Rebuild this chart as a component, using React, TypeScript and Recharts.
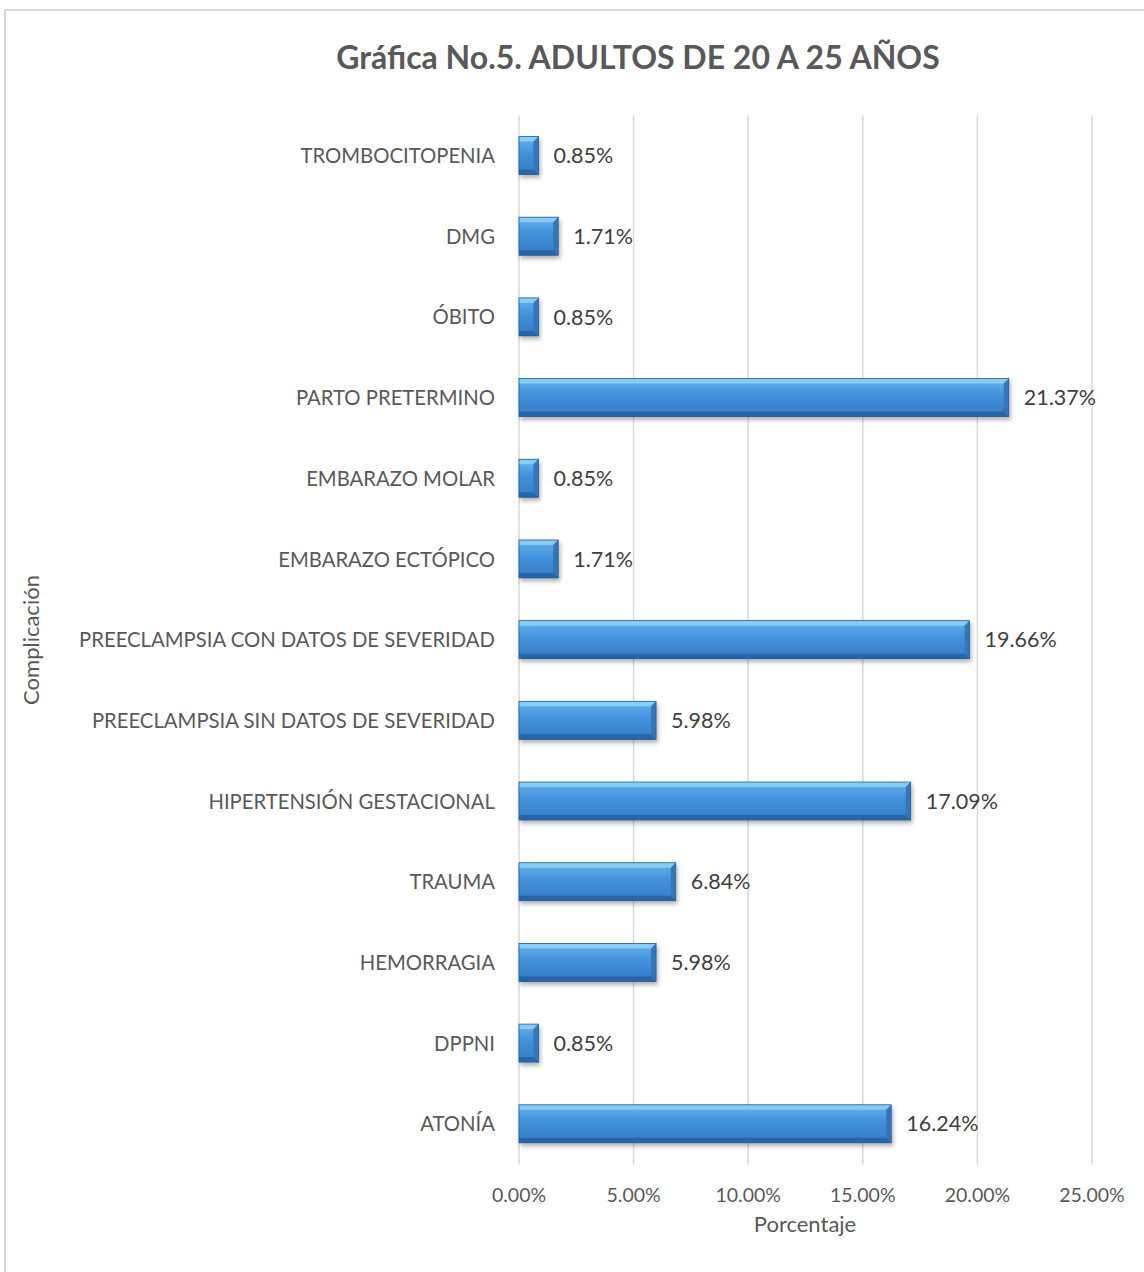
import { Bar, BarChart, CartesianGrid, LabelList, XAxis, YAxis } from "recharts";

const complicaciones: string[] = [
  "TROMBOCITOPENIA",
  "DMG",
  "ÓBITO",
  "PARTO PRETERMINO",
  "EMBARAZO MOLAR",
  "EMBARAZO ECTÓPICO",
  "PREECLAMPSIA CON DATOS DE SEVERIDAD",
  "PREECLAMPSIA SIN DATOS DE SEVERIDAD",
  "HIPERTENSIÓN GESTACIONAL",
  "TRAUMA",
  "HEMORRAGIA",
  "DPPNI",
  "ATONÍA",
];

const porcentajes: number[] = [
  0.85, 1.71, 0.85, 21.37, 0.85, 1.71, 19.66, 5.98, 17.09, 6.84, 5.98, 0.85, 16.24,
];

const xTicks: number[] = [0, 5, 10, 15, 20, 25];

const data = complicaciones.map((name, i) => ({ name, value: porcentajes[i] }));

const FONT = "Lato, 'Open Sans', sans-serif";
const GREY = "#595959";

const pct = (v: number) => `${Number(v).toFixed(2)}%`;

function BevelBar(props: any) {
  const { x, y, width, height } = props;
  if (!width || width <= 0) return null;
  const b = Math.min(5, width / 2, height / 2);
  const r = x + width;
  const bot = y + height;
  return (
    <g filter="url(#barShadow)">
      <rect x={x} y={y} width={width} height={height} fill="url(#barFace)" />
      <polygon points={`${x},${y} ${r},${y} ${r - b},${y + b} ${x},${y + b}`} fill="#86ccf7" />
      <polygon points={`${x},${bot} ${r},${bot} ${r - b},${bot - b} ${x},${bot - b}`} fill="#2766a8" />
      <polygon points={`${r},${y} ${r},${bot} ${r - b},${bot - b} ${r - b},${y + b}`} fill="#3077ba" />
      <rect x={x} y={y} width={width} height={height} fill="none" stroke="#2a5d92" strokeWidth={0.8} />
    </g>
  );
}

export default function App(): JSX.Element {
  return (
    <div style={{ position: "absolute", left: 0, top: 0, width: 1144, height: 1272, background: "#fff" }}>
      <div
        style={{
          position: "absolute",
          left: 4,
          top: 9,
          width: 1140,
          height: 1263,
          borderLeft: "2px solid #d9d9d9",
          borderTop: "2px solid #d9d9d9",
          boxSizing: "border-box",
        }}
      />
      <div
        style={{
          position: "absolute",
          left: 138,
          width: 1000,
          top: 35,
          textAlign: "center",
          fontFamily: FONT,
          fontWeight: 700,
          fontSize: 32,
          color: GREY,
          lineHeight: "44px",
          whiteSpace: "nowrap",
        }}
      >
        Gráfica No.5. ADULTOS DE 20 A 25 AÑOS
      </div>
      <div
        style={{
          position: "absolute",
          left: 30,
          top: 640,
          transform: "translate(-50%, -50%) rotate(-90deg)",
          fontFamily: FONT,
          fontSize: 22,
          color: GREY,
          whiteSpace: "nowrap",
        }}
      >
        Complicación
      </div>
      <div
        style={{
          position: "absolute",
          left: 805,
          top: 1223,
          transform: "translate(-50%, -50%)",
          fontFamily: FONT,
          fontSize: 22,
          color: GREY,
          whiteSpace: "nowrap",
        }}
      >
        Porcentaje
      </div>
      <div style={{ position: "absolute", left: 0, top: 0 }}>
        <BarChart
          width={1144}
          height={1272}
          data={data}
          layout="vertical"
          margin={{ top: 115.5, bottom: 77.5, left: 29, right: 52 }}
        >
          <defs>
            <linearGradient id="barFace" x1="0" y1="0" x2="0" y2="1">
              <stop offset="0%" stopColor="#66b3ee" />
              <stop offset="45%" stopColor="#4291dc" />
              <stop offset="100%" stopColor="#357bc6" />
            </linearGradient>
            <filter id="barShadow" x="-20%" y="-20%" width="140%" height="160%">
              <feDropShadow dx="1.5" dy="3" stdDeviation="2" floodColor="#000" floodOpacity="0.3" />
            </filter>
          </defs>
          <CartesianGrid horizontal={false} vertical stroke="#d9d9d9" strokeWidth={1.5} />
          <XAxis
            type="number"
            domain={[0, 25]}
            ticks={xTicks}
            tickFormatter={pct}
            axisLine={false}
            tickLine={false}
            tickSize={0}
            tickMargin={24}
            tick={{ fill: GREY, fontSize: 19.5, fontFamily: FONT }}
          />
          <YAxis
            type="category"
            dataKey="name"
            width={490}
            axisLine={false}
            tickLine={false}
            tickSize={0}
            tickMargin={24}
            interval={0}
            tick={{ fill: GREY, fontSize: 20.3, fontFamily: FONT }}
          />
          <Bar dataKey="value" barSize={38} shape={<BevelBar />} isAnimationActive={false}>
            <LabelList
              dataKey="value"
              position="right"
              offset={15}
              formatter={(v: any) => pct(v)}
              style={{ fill: "#404040", fontSize: 21.5, fontFamily: FONT }}
            />
          </Bar>
        </BarChart>
      </div>
    </div>
  );
}
